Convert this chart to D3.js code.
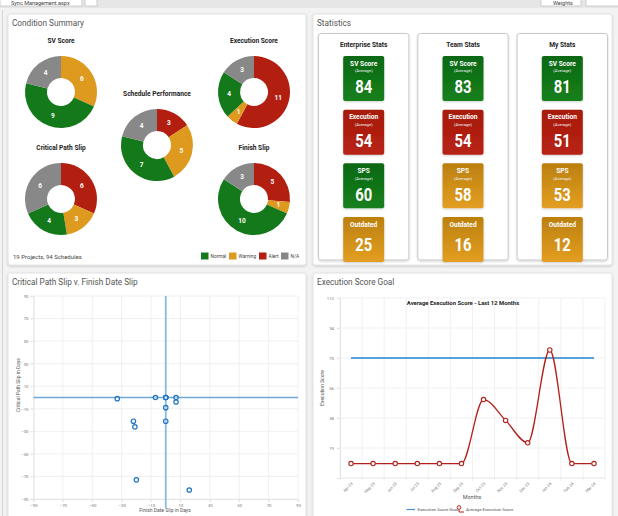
<!DOCTYPE html>
<html>
<head>
<meta charset="utf-8">
<script src="https://cdn.jsdelivr.net/npm/d3@7"></script>
<style>
  body { margin: 0; background: #f3f3f3; font-family: Roboto, "Noto Sans", sans-serif; }
</style>
</head>
<body>
<div id="chart-area"></div>
<script>
// ---- data ----
const statusOrder = ["Alert", "Warning", "Normal", "N/A"]
const legendOrder = ["Normal", "Warning", "Alert", "N/A"]

const donutTitles = ["SV Score", "Execution Score", "Schedule Performance", "Critical Path Slip", "Finish Slip"]
const svScore = [0, 6, 9, 4]
const executionScore = [11, 1, 4, 3]
const schedulePerformance = [3, 5, 7, 4]
const criticalPathSlip = [6, 3, 4, 6]
const finishSlip = [5, 1, 10, 3]
const donutCounts = [svScore, executionScore, schedulePerformance, criticalPathSlip, finishSlip]

const statGroups = ["Enterprise Stats", "Team Stats", "My Stats"]
const statLabels = ["SV Score", "Execution", "SPS", "Outdated"]
const enterpriseStats = [84, 54, 60, 25]
const teamStats = [83, 54, 58, 16]
const myStats = [81, 51, 53, 12]
const enterpriseStatus = ["Normal", "Alert", "Normal", "Warning"]
const teamStatus = ["Normal", "Alert", "Warning", "Warning"]
const myStatus = ["Normal", "Alert", "Warning", "Warning"]

const finishDateSlip = [-33, -7, 0, 0, 0, 7, 7, 0, -22, -21, 0, -20, 16]
const criticalPathSlipDays = [-1, 0, 0, 0, 0, 0, -4, -9, -21, -26, -21, -73, -82]
const slipTicks = [-90, -70, -50, -30, -10, 10, 30, 50, 70, 90]

const months = ["Apr 23", "May 23", "Jun 23", "Jul 23", "Aug 23", "Sep 23", "Oct 23", "Nov 23", "Dec 23", "Jan 24", "Feb 24", "Mar 24"]
const avgExecutionScore = [9, 9, 9, 9, 9, 9, 49, 36, 22, 80, 9, 9]
const executionGoal = 75
const execTickValues = [18.75, 37.5, 56.25, 75, 93.75, 112.5]
const execTickLabels = ["19", "38", "56", "75", "94", "112"]

// ---- page ----
const w = 618, h = 516
const svg = d3.select("#chart-area").append("svg")
  .attr("width", w).attr("height", h)
  .style("display", "block")
  .style("font-family", "Roboto, sans-serif")

const defs = svg.append("defs")
const shadow = defs.append("filter").attr("id", "shadow")
  .attr("x", "-10%").attr("y", "-10%").attr("width", "130%").attr("height", "130%")
shadow.append("feDropShadow").attr("dx", 0).attr("dy", 1).attr("stdDeviation", 1)
  .attr("flood-color", "#000").attr("flood-opacity", 0.18)

const color = d3.scaleOrdinal().domain(statusOrder).range(["#b21f11", "#de9a1f", "#13791a", "#888888"])
const gradStops = { Normal: ["#0c6812", "#15801c"], Warning: ["#bb800f", "#e39e22"], Alert: ["#a51a0f", "#b82313"] }
Object.keys(gradStops).forEach((k, i) => {
  const g = defs.append("linearGradient").attr("id", "tile" + i).attr("x1", 0).attr("y1", 0).attr("x2", 0).attr("y2", 1)
  g.append("stop").attr("offset", "0%").attr("stop-color", gradStops[k][0])
  g.append("stop").attr("offset", "100%").attr("stop-color", gradStops[k][1])
})
const tileFill = (s) => "url(#tile" + Object.keys(gradStops).indexOf(s) + ")"

// top strip
svg.append("rect").attr("x", 0).attr("y", 0).attr("width", w).attr("height", 8).attr("fill", "#e6e6e6")
svg.append("rect").attr("x", 0).attr("y", -4).attr("width", 82).attr("height", 10).attr("fill", "#fff").attr("stroke", "#ccc")
svg.append("text").attr("x", 11).attr("y", 5).attr("font-size", 5.5).attr("fill", "#444").text("Sync Management.aspx")
svg.append("rect").attr("x", 85).attr("y", -4).attr("width", 12).attr("height", 10).attr("fill", "#fff").attr("stroke", "#ccc")
svg.append("rect").attr("x", 541).attr("y", -4).attr("width", 40).attr("height", 10).attr("fill", "#fff").attr("stroke", "#ccc")
svg.append("text").attr("x", 553).attr("y", 5).attr("font-size", 5.5).attr("fill", "#444").text("Weights")
svg.append("rect").attr("x", 586).attr("y", -4).attr("width", 40).attr("height", 10).attr("fill", "#fff").attr("stroke", "#ccc")
svg.append("line").attr("x1", 2.5).attr("x2", 2.5).attr("y1", 10).attr("y2", h).attr("stroke", "#d4d4d4")

const panels = [
  { x: 8, y: 14, w: 298, h: 251, title: "Condition Summary" },
  { x: 313, y: 14, w: 299, h: 251, title: "Statistics" },
  { x: 8, y: 273, w: 298, h: 250, title: "Critical Path Slip v. Finish Date Slip" },
  { x: 313, y: 273, w: 299, h: 250, title: "Execution Score Goal" }
]
panels.forEach(p => {
  svg.append("rect").attr("x", p.x).attr("y", p.y).attr("width", p.w).attr("height", p.h)
    .attr("fill", "#fff").attr("stroke", "#e2e2e2").attr("rx", 2).attr("filter", "url(#shadow)")
  svg.append("text").attr("x", p.x + 4).attr("y", p.y + 12)
    .attr("font-size", 8.2).attr("fill", "#555").text(p.title)
})

// ---- condition summary donuts ----
const donutCenters = [[61, 92], [254, 92], [157, 145], [61, 199], [254, 199]]
const pie = d3.pie().sort(null).value(d => d)
const arc = d3.arc().innerRadius(14).outerRadius(36)
const labelArc = d3.arc().innerRadius(25).outerRadius(25)

donutCounts.forEach((counts, i) => {
  const [cx, cy] = donutCenters[i]
  const g = svg.append("g").attr("transform", `translate(${cx},${cy})`)
  svg.append("text").attr("x", cx).attr("y", cy - 49).attr("text-anchor", "middle")
    .attr("font-size", 6.6).attr("font-weight", "bold").attr("fill", "#222").text(donutTitles[i])
  const slices = pie(counts)
  g.selectAll("path").data(slices).enter().append("path")
    .attr("d", arc).attr("fill", (d, j) => color(statusOrder[j]))
  g.selectAll("text").data(slices.filter(d => d.data > 0)).enter().append("text")
    .attr("transform", d => `translate(${labelArc.centroid(d)})`)
    .attr("text-anchor", "middle").attr("dy", "0.35em")
    .attr("font-size", 6.5).attr("font-weight", "bold").attr("fill", "#fff")
    .text(d => d.data)
})

svg.append("text").attr("x", 13).attr("y", 258.5).attr("font-size", 6).attr("fill", "#444")
  .text("19 Projects, 94 Schedules")
const legendX = [201, 229, 259, 281]
legendOrder.forEach((s, i) => {
  svg.append("rect").attr("x", legendX[i]).attr("y", 252.5).attr("width", 7.5).attr("height", 7).attr("fill", color(s))
  svg.append("text").attr("x", legendX[i] + 9.5).attr("y", 258.3).attr("font-size", 4.8).attr("fill", "#444").text(s)
})

// ---- statistics ----
const statValues = [enterpriseStats, teamStats, myStats]
const statStatus = [enterpriseStatus, teamStatus, myStatus]
const groupX = d3.scaleBand().domain(statGroups).range([318.5, 607.5]).paddingInner(0.09)
const tileY = d3.scaleBand().domain(statLabels).range([56, 262]).paddingInner(0.16)

statGroups.forEach((grp, gi) => {
  const gx = groupX(grp), bw = groupX.bandwidth()
  svg.append("rect").attr("x", gx).attr("y", 33.5).attr("width", bw).attr("height", 226.5)
    .attr("fill", "#fff").attr("stroke", "#c9c9c9").attr("rx", 2.5).attr("filter", "url(#shadow)")
  svg.append("text").attr("x", gx + bw / 2).attr("y", 46.8).attr("text-anchor", "middle")
    .attr("font-size", 6.6).attr("font-weight", "bold").attr("fill", "#222").text(grp)
  statLabels.forEach((lab, li) => {
    const tx = gx + bw / 2 - 20.5, ty = tileY(lab), th = tileY.bandwidth()
    const outdated = lab === "Outdated"
    svg.append("rect").attr("x", tx).attr("y", ty).attr("width", 41).attr("height", th).attr("rx", 2)
      .attr("fill", tileFill(statStatus[gi][li])).attr("filter", "url(#shadow)")
    svg.append("text").attr("x", tx + 20.5).attr("y", ty + 9.8).attr("text-anchor", "middle")
      .attr("font-size", 6.6).attr("font-weight", "bold").attr("fill", "#fff").text(lab)
    if (!outdated) {
      svg.append("text").attr("x", tx + 20.5).attr("y", ty + 16.3).attr("text-anchor", "middle")
        .attr("font-size", 4.2).attr("fill", "#f2f2f2").text("(Average)")
    }
    svg.append("text").attr("x", tx + 20.5).attr("y", ty + (outdated ? 34 : 37.3)).attr("text-anchor", "middle")
      .attr("font-size", 19).attr("font-weight", "bold").attr("fill", "#fff")
      .attr("textLength", 17).attr("lengthAdjust", "spacingAndGlyphs")
      .text(statValues[gi][li])
  })
})

// ---- scatter: critical path slip v finish date slip ----
const sx = d3.scaleLinear().domain([-90, 90]).range([33.5, 298])
const sy = d3.scaleLinear().domain([-90, 90]).range([499, 296])

const sGrid = svg.append("g")
sGrid.selectAll(".vg").data(slipTicks).enter().append("line")
  .attr("x1", d => sx(d)).attr("x2", d => sx(d)).attr("y1", 296).attr("y2", 502)
  .attr("stroke", "#ececec").attr("stroke-width", 0.8)
sGrid.selectAll(".hg").data(slipTicks).enter().append("line")
  .attr("x1", 30).attr("x2", 298).attr("y1", d => sy(d)).attr("y2", d => sy(d))
  .attr("stroke", "#ececec").attr("stroke-width", 0.8)

const sxAxis = svg.append("g").attr("transform", "translate(0,499)")
  .call(d3.axisBottom(sx).tickValues(slipTicks).tickSize(3).tickPadding(2))
const syAxis = svg.append("g").attr("transform", "translate(33.5,0)")
  .call(d3.axisLeft(sy).tickValues(slipTicks).tickSize(3).tickPadding(2))
;[sxAxis, syAxis].forEach(a => {
  a.select(".domain").attr("stroke", "#e4e4e4")
  a.selectAll(".tick line").attr("stroke", "#e4e4e4")
  a.selectAll("text").attr("font-size", 4.3).attr("fill", "#777").attr("font-family", "Roboto, sans-serif")
})

svg.append("line").attr("x1", sx(-90)).attr("x2", sx(90)).attr("y1", sy(0)).attr("y2", sy(0))
  .attr("stroke", "#6ea8d8").attr("stroke-width", 1.3)
svg.append("line").attr("x1", sx(0)).attr("x2", sx(0)).attr("y1", 296).attr("y2", 508)
  .attr("stroke", "#86bbe3").attr("stroke-width", 1.8)

svg.selectAll(".slip").data(finishDateSlip).enter().append("circle")
  .attr("cx", d => sx(d)).attr("cy", (d, i) => sy(criticalPathSlipDays[i])).attr("r", 2.2)
  .attr("fill", "#fff").attr("fill-opacity", 0.3).attr("stroke", "#1f73c2").attr("stroke-width", 1.2)

svg.append("text").attr("transform", "translate(20,385) rotate(-90)").attr("text-anchor", "middle")
  .attr("font-size", 5).attr("fill", "#555").text("Critical Path Slip in Days")
svg.append("text").attr("x", 165).attr("y", 512).attr("text-anchor", "middle")
  .attr("font-size", 5).attr("fill", "#555").text("Finish Date Slip in Days")

// ---- line chart: execution score goal ----
const lx = d3.scaleBand().domain(months).range([340, 605])
const ly = d3.scaleLinear().domain([0, 112.5]).range([478, 298])
const cxm = m => lx(m) + lx.bandwidth() / 2

const lGrid = svg.append("g")
lGrid.selectAll(".vg").data(months.concat(["end"])).enter().append("line")
  .attr("x1", (d, i) => 340 + i * lx.bandwidth()).attr("x2", (d, i) => 340 + i * lx.bandwidth())
  .attr("y1", 298).attr("y2", 481).attr("stroke", "#ededed").attr("stroke-width", 0.8)
lGrid.selectAll(".hg").data(execTickValues).enter().append("line")
  .attr("x1", 337).attr("x2", 605).attr("y1", d => ly(d)).attr("y2", d => ly(d))
  .attr("stroke", "#ededed").attr("stroke-width", 0.8)

const lyAxis = svg.append("g").attr("transform", "translate(340,0)")
  .call(d3.axisLeft(ly).tickValues(execTickValues).tickFormat((d, i) => execTickLabels[i]).tickSize(3).tickPadding(3))
lyAxis.select(".domain").attr("stroke", "#e4e4e4")
lyAxis.selectAll(".tick line").attr("stroke", "#e4e4e4")
lyAxis.selectAll("text").attr("font-size", 4.3).attr("fill", "#777").attr("font-family", "Roboto, sans-serif")

svg.append("line").attr("x1", 340).attr("x2", 605).attr("y1", 478).attr("y2", 478).attr("stroke", "#e4e4e4")
svg.selectAll(".mlab").data(months).enter().append("text")
  .attr("transform", d => `translate(${cxm(d) + 2},${484}) rotate(-45)`)
  .attr("text-anchor", "end").attr("font-size", 4).attr("fill", "#777").text(d => d)

svg.append("line").attr("x1", cxm(months[0])).attr("x2", cxm(months[11]))
  .attr("y1", ly(executionGoal)).attr("y2", ly(executionGoal))
  .attr("stroke", "#5b9fd8").attr("stroke-width", 2)

const line = d3.line().x((d, i) => cxm(months[i])).y(d => ly(d)).curve(d3.curveMonotoneX)
svg.append("path").datum(avgExecutionScore).attr("d", line)
  .attr("fill", "none").attr("stroke", "#b3221a").attr("stroke-width", 1.3)
svg.selectAll(".pt").data(avgExecutionScore).enter().append("circle")
  .attr("cx", (d, i) => cxm(months[i])).attr("cy", d => ly(d)).attr("r", 2.2)
  .attr("fill", "#fff").attr("stroke", "#b3221a").attr("stroke-width", 1.1)

svg.append("text").attr("x", 463).attr("y", 304.5).attr("text-anchor", "middle")
  .attr("font-size", 5.9).attr("font-weight", "bold").attr("fill", "#222")
  .text("Average Execution Score - Last 12 Months")
svg.append("text").attr("transform", "translate(324,388) rotate(-90)").attr("text-anchor", "middle")
  .attr("font-size", 5).attr("fill", "#555").text("Execution Score")
svg.append("text").attr("x", 472).attr("y", 499).attr("text-anchor", "middle")
  .attr("font-size", 5.5).attr("fill", "#555").text("Months")

svg.append("line").attr("x1", 406.5).attr("x2", 415).attr("y1", 509.5).attr("y2", 509.5)
  .attr("stroke", "#4a90d0").attr("stroke-width", 1.2)
svg.append("text").attr("x", 417.5).attr("y", 511.2).attr("font-size", 4.3).attr("fill", "#555").text("Execution Score Goal")
svg.append("path").attr("d", "M459,509.5 L459,512 L464,512").attr("fill", "none").attr("stroke", "#b3221a").attr("stroke-width", 1)
svg.append("circle").attr("cx", 459).attr("cy", 507.5).attr("r", 1.8).attr("fill", "#fff").attr("stroke", "#b3221a").attr("stroke-width", 1)
svg.append("text").attr("x", 466).attr("y", 511.2).attr("font-size", 4.3).attr("fill", "#555").text("Average Execution Score")
</script>
</body>
</html>
